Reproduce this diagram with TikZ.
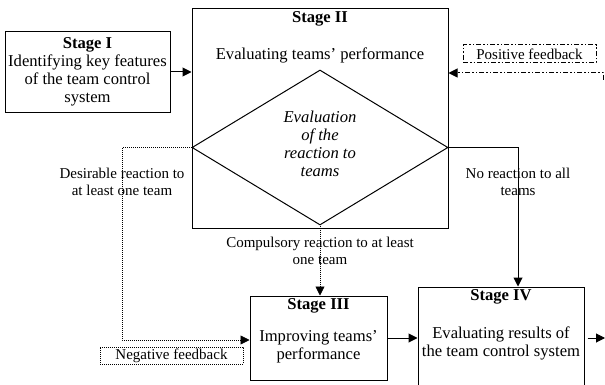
\documentclass[tikz,border=0pt]{standalone}
\usepackage{fontspec}
\setmainfont{Liberation Serif}
\usetikzlibrary{arrows.meta,shapes.geometric}
\tikzset{
  box/.style={draw, line width=1pt, inner sep=0pt},
  txt/.style={align=center, inner sep=0pt, font=\fontsize{16.6}{18}\selectfont},
  lbl/.style={align=center, inner sep=0pt, font=\fontsize{15}{16.5}\selectfont},
  ttl/.style={align=center, inner sep=0pt, font=\fontsize{16.6}{18}\selectfont\bfseries},
  arr/.style={line width=1pt, -{Triangle[length=9pt,width=9pt]}},
  dotarr/.style={line width=0.7pt, dash pattern=on 0.8pt off 1.2pt, -{Triangle[length=9pt,width=9pt]}},
  dotbox/.style={draw, line width=0.7pt, dash pattern=on 0.8pt off 1.2pt, inner sep=0pt},
  ddbox/.style={draw, line width=1pt, dash pattern=on 5pt off 2pt on 1.5pt off 2pt on 1.5pt off 2pt, inner sep=0pt},
  ddarr/.style={line width=1pt, dash pattern=on 5pt off 2pt on 1.5pt off 2pt on 1.5pt off 2pt, -{Triangle[length=9pt,width=9pt]}}
}
\begin{document}
\begin{tikzpicture}[x=1pt,y=-1pt]
\useasboundingbox (0,0) rectangle (605,385);
% Stage I
\node[box, txt, minimum width=165pt, minimum height=81pt] (s1) at (87.5,72)
  {\textbf{Stage I}\\Identifying key features\\of the team control\\system};
% Stage II
\node[box, minimum width=256pt, minimum height=219pt] (s2) at (320,118.5) {};
\node[ttl] (s2t) at (320,19) {Stage II};
\node[txt] (s2s) at (320,55) {Evaluating teams’ performance};
\node[draw, diamond, line width=1pt, inner sep=0pt, aspect=1.65, minimum width=256pt, minimum height=155pt] (dia) at (320,147.5) {};
\node[txt, font=\fontsize{16.6}{18}\selectfont\itshape] (diat) at (320,144) {Evaluation\\of the\\reaction to\\teams};
% Stage III
\node[box, minimum width=137pt, minimum height=84pt] (s3) at (318.5,338) {};
\node[ttl] (s3t) at (318.5,306) {Stage III};
\node[txt] (s3s) at (318.5,347) {Improving teams’\\performance};
% Stage IV
\node[box, minimum width=166pt, minimum height=130pt] (s4) at (501,352) {};
\node[ttl] (s4t) at (501,297) {Stage IV};
\node[txt] (s4s) at (501,343) {Evaluating results of\\the team control system};
% feedback labels
\node[ddbox, lbl, minimum width=133pt, minimum height=18pt] (pos) at (529.5,54) {Positive feedback};
\node[dotbox, lbl, minimum width=143pt, minimum height=17pt] (neg) at (171.5,355.5) {Negative feedback};
% connectors
\draw[arr] (s1.east) -- (s1.east -| s2.west);
\coordinate (pfD) at (603,80);
\coordinate (pfR) at (603,73);
\draw[ddarr] (pfD) -- (pfR) -- (pfR -| s2.east);
\coordinate (nbend) at (122,340);
\draw[dotarr] (dia.west) -| (nbend) -- (nbend -| s3.west);
\draw[dotarr] (dia.south) -- (dia.south |- s3.north);
\coordinate (nr) at (518,147.5);
\draw[arr] (dia.east) -- (nr) -- (nr |- s4.north);
\draw[arr] (s3.east) -- (s3.east -| s4.west);
\coordinate (outR) at (605,338);
\draw[arr] ([xshift=3pt]s4.east |- outR) -- (outR);
% connector labels
\node[lbl] (l1) at (122,182) {Desirable reaction to\\at least one team};
\node[lbl] (l2) at (518,182) {No reaction to all\\teams};
\node[lbl] (l3) at (320,251) {Compulsory reaction to at least\\one team};
\end{tikzpicture}
\end{document}
